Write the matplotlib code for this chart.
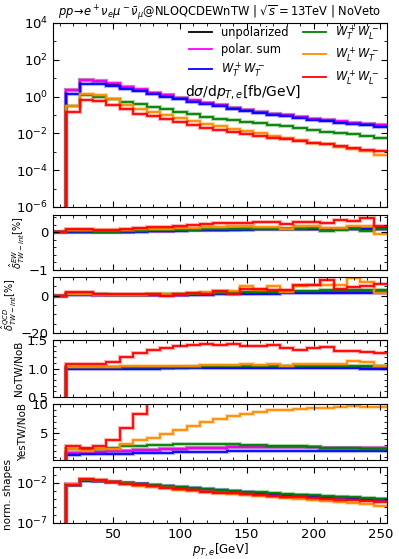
import numpy as np
import matplotlib
matplotlib.use("Agg")
import matplotlib.pyplot as plt
from matplotlib.ticker import MultipleLocator, FixedLocator, LogLocator, NullFormatter

# bin edges in p_T,e [GeV]; first bin is empty
edges = np.arange(5, 256, 10)

labels = ["unpolarized", "polar. sum", r"$W_T^+W_T^-$",
          r"$W_T^+W_L^-$", r"$W_L^+W_T^-$", r"$W_L^+W_L^-$"]
colors = ["black", "magenta", "blue", "green", "darkorange", "red"]

# d sigma / d pT [fb/GeV]
xs_unpol = [0, 2.2, 7.8, 6.9, 5.1, 3.4, 2.4, 1.6, 1.15, 0.83, 0.61, 0.44, 0.33, 0.245,
            0.19, 0.147, 0.115, 0.094, 0.076, 0.062, 0.052, 0.044, 0.037, 0.033, 0.029]
xs_sum = [0, 2.3, 8.1, 7.1, 5.3, 3.5, 2.5, 1.65, 1.2, 0.85, 0.63, 0.45, 0.34, 0.25,
          0.195, 0.15, 0.118, 0.096, 0.078, 0.063, 0.053, 0.045, 0.038, 0.034, 0.030]
xs_TT = [0, 1.34, 5.0, 4.6, 3.8, 2.7, 1.95, 1.35, 1.0, 0.72, 0.54, 0.39, 0.29, 0.22,
         0.17, 0.13, 0.103, 0.084, 0.068, 0.055, 0.046, 0.039, 0.033, 0.028, 0.023]
xs_TL = [0, 0.3, 1.23, 0.96, 0.75, 0.51, 0.38, 0.27, 0.2, 0.148, 0.11, 0.082, 0.064, 0.052,
         0.043, 0.035, 0.029, 0.024, 0.019, 0.015, 0.0125, 0.0104, 0.0088, 0.0072, 0.0054]
xs_LT = [0, 0.31, 1.45, 1.23, 0.7, 0.33, 0.21, 0.145, 0.1, 0.07, 0.048, 0.034, 0.025, 0.018,
         0.0135, 0.01, 0.0075, 0.0055, 0.0042, 0.0032, 0.0025, 0.0019, 0.0014, 0.0011, 0.00068]
xs_LL = [0, 0.15, 0.66, 0.58, 0.33, 0.2, 0.12, 0.088, 0.058, 0.04, 0.028, 0.02, 0.0152, 0.012,
         0.0093, 0.0073, 0.0057, 0.0047, 0.0038, 0.003, 0.0025, 0.002, 0.0016, 0.0013, 0.0011]

# EW TW-int correction [%]
ew_unpol = [0, 0.01, 0.01, 0.01, 0.02, 0.02, 0.03, 0.04, 0.04, 0.05, 0.06, 0.06, 0.07, 0.08,
            0.08, 0.08, 0.09, 0.09, 0.09, 0.1, 0.1, 0.1, 0.11, 0.1, 0.11]
ew_sum = [0, 0.01, 0.01, 0.01, 0.02, 0.02, 0.03, 0.03, 0.04, 0.05, 0.05, 0.06, 0.07, 0.07,
          0.08, 0.08, 0.08, 0.09, 0.09, 0.09, 0.1, 0.1, 0.1, 0.1, 0.1]
ew_TT = [0, 0.0, 0.0, 0.01, 0.01, 0.01, 0.02, 0.03, 0.03, 0.04, 0.05, 0.05, 0.06, 0.07,
         0.07, 0.08, 0.08, 0.08, 0.09, 0.09, 0.1, 0.09, 0.09, 0.1, 0.1]
ew_TL = [0, 0.03, 0.03, 0.02, 0.02, 0.03, 0.04, 0.05, 0.05, 0.06, 0.07, 0.08, 0.09, 0.1,
         0.1, 0.1, 0.1, 0.1, 0.09, 0.12, 0.04, 0.07, 0.1, 0.04, 0.09]
ew_LT = [0, 0.06, 0.06, 0.05, 0.05, 0.06, 0.08, 0.09, 0.1, 0.11, 0.12, 0.13, 0.15, 0.16,
         0.16, 0.14, 0.14, 0.1, 0.17, 0.17, 0.12, 0.12, 0.18, 0.16, -0.05]
ew_LL = [0, 0.08, 0.08, 0.06, 0.06, 0.09, 0.12, 0.14, 0.14, 0.17, 0.19, 0.21, 0.24, 0.25,
         0.25, 0.27, 0.28, 0.23, 0.28, 0.28, 0.26, 0.34, 0.31, 0.37, 0.16]

# QCD TW-int correction [%]
qcd_unpol = [0, 0.8, 0.8, 0.5, 0.4, 0.4, 0.4, 0.4, 0.5, 0.6, 0.8, 1.0, 1.2, 1.4,
             1.5, 1.7, 1.8, 1.9, 2.0, 2.1, 2.2, 2.3, 2.4, 2.4, 2.5]
qcd_sum = [0, 0.8, 0.8, 0.5, 0.4, 0.4, 0.4, 0.4, 0.5, 0.6, 0.8, 1.0, 1.2, 1.3,
           1.5, 1.6, 1.8, 1.9, 2.0, 2.1, 2.2, 2.2, 2.3, 2.4, 2.4]
qcd_TT = [0, 0.3, 0.3, 0.2, 0.2, 0.2, 0.2, 0.2, 0.3, 0.4, 0.5, 0.6, 0.7, 0.8,
          0.9, 1.0, 1.1, 1.2, 1.3, 1.3, 1.4, 1.4, 1.5, 1.5, 1.5]
qcd_TL = [0, 1.0, 1.0, 0.7, 0.6, 0.6, 0.6, 0.7, 0.8, 0.9, 1.1, 1.3, 1.5, 1.7,
          1.8, 2.0, 2.2, 2.3, 2.5, 2.6, 2.8, 2.8, 2.9, 3.0, 3.0]
qcd_LT = [0, 0.9, 0.9, 0.5, 0.5, 0.5, 0.6, 0.7, 0.8, 1.0, 1.6, 2.2, 2.6, 2.7,
          5.0, 3.0, 5.0, 2.0, 5.0, 5.7, 5.7, 5.7, 9.3, 7.5, 1.6]
qcd_LL = [0, 1.8, 1.8, 0.9, 0.7, 0.7, 0.7, 0.7, -0.3, 0.9, 1.6, 1.0, 2.7, 0.9,
          3.4, 3.4, 3.3, 3.0, 5.7, 5.7, 8.4, 3.4, 4.9, 5.4, 6.5]

# NoTW / NoB
notw_unpol = [0, 1.01, 1.01, 1.01, 1.01, 1.01, 1.01, 1.01, 1.01, 1.02, 1.02, 1.02, 1.02, 1.02,
              1.02, 1.02, 1.02, 1.02, 1.02, 1.02, 1.02, 1.02, 1.02, 1.02, 1.01]
notw_sum = [0, 1.01, 1.01, 1.01, 1.01, 1.01, 1.01, 1.01, 1.01, 1.01, 1.02, 1.02, 1.02, 1.02,
            1.02, 1.02, 1.02, 1.02, 1.02, 1.02, 1.02, 1.02, 1.02, 1.01, 1.01]
notw_TT = [0, 1.0, 1.0, 1.0, 1.0, 1.0, 1.0, 1.0, 1.005, 1.005, 1.01, 1.01, 1.01, 1.01,
           1.01, 1.01, 1.01, 1.01, 1.01, 1.01, 1.01, 1.01, 1.01, 1.0, 0.99]
notw_TL = [0, 1.02, 1.02, 1.02, 1.02, 1.02, 1.02, 1.03, 1.03, 1.03, 1.03, 1.04, 1.04, 1.04,
           1.05, 1.05, 1.05, 1.05, 1.05, 1.05, 1.05, 1.05, 1.04, 1.04, 1.04]
notw_LT = [0, 1.03, 1.03, 1.03, 1.03, 1.04, 1.04, 1.04, 1.05, 1.05, 1.05, 1.06, 1.06, 1.07,
           1.08, 1.07, 1.08, 1.05, 1.08, 1.08, 1.08, 1.08, 1.13, 1.12, 1.04]
notw_LL = [0, 1.08, 1.08, 1.08, 1.12, 1.2, 1.28, 1.33, 1.36, 1.39, 1.415, 1.43, 1.42, 1.43,
           1.39, 1.4, 1.41, 1.365, 1.33, 1.36, 1.38, 1.31, 1.3, 1.29, 1.28]

# YesTW / NoB
yes_unpol = [0, 1.7, 1.75, 1.85, 1.95, 2.05, 2.15, 2.25, 2.35, 2.45, 2.5, 2.55, 2.6, 2.65,
             2.65, 2.7, 2.7, 2.7, 2.65, 2.65, 2.6, 2.6, 2.55, 2.55, 2.5]
yes_sum = [0, 1.72, 1.77, 1.87, 1.97, 2.07, 2.17, 2.27, 2.37, 2.45, 2.52, 2.57, 2.62, 2.66,
           2.67, 2.7, 2.7, 2.68, 2.66, 2.64, 2.6, 2.58, 2.55, 2.52, 2.5]
yes_TT = [0, 1.42, 1.45, 1.5, 1.55, 1.6, 1.65, 1.7, 1.75, 1.8, 1.85, 1.9, 1.92, 1.95,
          1.97, 2.0, 2.0, 2.02, 2.03, 2.04, 2.05, 2.05, 2.05, 2.05, 2.05]
yes_TL = [0, 2.45, 2.3, 2.45, 2.6, 2.8, 2.95, 3.05, 3.1, 3.15, 3.2, 3.2, 3.2, 3.15,
          3.1, 3.0, 2.95, 2.85, 2.8, 2.7, 2.6, 2.55, 2.5, 2.4, 2.35]
yes_LT = [0, 2.3, 2.05, 2.3, 2.45, 3.2, 3.86, 4.3, 4.9, 5.6, 6.25, 6.9, 7.5, 7.95,
          8.35, 8.65, 8.9, 9.05, 9.2, 9.3, 9.4, 9.5, 9.6, 9.55, 9.45]
yes_LL = [0, 2.85, 2.6, 2.85, 3.85, 5.85, 8.3, 11, 14, 17, 20, 23, 26, 29,
          32, 35, 38, 40, 42, 44, 46, 48, 50, 52, 54]

xs = [xs_unpol, xs_sum, xs_TT, xs_TL, xs_LT, xs_LL]
ew = [ew_unpol, ew_sum, ew_TT, ew_TL, ew_LT, ew_LL]
qcd = [qcd_unpol, qcd_sum, qcd_TT, qcd_TL, qcd_LT, qcd_LL]
notw = [notw_unpol, notw_sum, notw_TT, notw_TL, notw_LT, notw_LL]
yes = [yes_unpol, yes_sum, yes_TT, yes_TL, yes_LT, yes_LL]

widths = np.diff(edges)
norm = [np.array(v) / np.sum(np.array(v) * widths) for v in xs]

W, H = 399, 559
fig = plt.figure(figsize=(W / 100, H / 100), dpi=100)

left, right = 53, 387


def add_panel(top, bottom):
    return fig.add_axes([left / W, 1 - bottom / H, (right - left) / W, (bottom - top) / H])


ax0 = add_panel(23, 207)
ax1 = add_panel(215, 270)
ax2 = add_panel(277, 333)
ax3 = add_panel(340, 397)
ax4 = add_panel(404, 460)
ax5 = add_panel(467, 523)
axes = [ax0, ax1, ax2, ax3, ax4, ax5]


def draw(ax, series, legend=False):
    for vals, c, lab in zip(series, colors, labels):
        ax.stairs(vals, edges, color=c, lw=3, alpha=0.3, baseline=None)
        ax.stairs(vals, edges, color=c, lw=1.3, baseline=None,
                  label=lab if legend else None)


for ax in [ax0, ax5]:
    ax.set_yscale("log")

draw(ax0, xs, legend=True)
draw(ax1, ew)
draw(ax2, qcd)
draw(ax3, notw)
draw(ax4, yes)
draw(ax5, norm)

for ax in axes:
    ax.set_xlim(5, 255)
    ax.xaxis.set_major_locator(MultipleLocator(50))
    ax.xaxis.set_minor_locator(MultipleLocator(10))
    ax.tick_params(which="both", direction="in", top=True, right=True, labelsize=9.5)
    ax.tick_params(which="major", length=4)
    ax.tick_params(which="minor", length=2)
    if ax is not ax5:
        ax.tick_params(labelbottom=False)

ax0.set_ylim(1e-6, 1e4)
ax0.yaxis.set_major_locator(FixedLocator([1e-6, 1e-4, 1e-2, 1e0, 1e2, 1e4]))
ax0.yaxis.set_minor_locator(LogLocator(base=10, subs=(1.0,), numticks=20))
ax0.yaxis.set_minor_formatter(NullFormatter())
ax0.text(0.395, 0.625, r"d$\sigma$/d$p_{T,e}$[fb/GeV]", transform=ax0.transAxes,
         fontsize=10, va="center", ha="left")
ax0.legend(ncol=2, loc="upper right", bbox_to_anchor=(1.0, 1.045), frameon=False,
           fontsize=8.3, handlelength=2.0, columnspacing=1.2, labelspacing=0.35,
           borderaxespad=0.3)
ax0.set_title(r"$pp\!\to\! e^+\nu_e\mu^-\bar{\nu}_\mu$@NLOQCDEWnTW | $\sqrt{s}=13$TeV | NoVeto",
              fontsize=8.3, pad=4)

ax1.set_ylim(-1, 0.46)
ax1.yaxis.set_major_locator(FixedLocator([-1, 0]))
ax1.yaxis.set_minor_locator(MultipleLocator(0.2))
ax1.set_ylabel(r"$\hat{\delta}^{EW}_{TW-int}$[%]", fontsize=7, labelpad=1)

ax2.set_ylim(-20, 10)
ax2.yaxis.set_major_locator(FixedLocator([-20, 0]))
ax2.yaxis.set_minor_locator(MultipleLocator(5))
ax2.set_ylabel(r"$\hat{\delta}^{QCD}_{TW-int}$[%]", fontsize=7, labelpad=1)

ax3.set_ylim(0.5, 1.5)
ax3.yaxis.set_major_locator(MultipleLocator(0.5))
ax3.yaxis.set_minor_locator(MultipleLocator(0.1))
ax3.set_ylabel("NoTW/NoB", fontsize=7.5, labelpad=2)

ax4.set_ylim(0.5, 10)
ax4.yaxis.set_major_locator(FixedLocator([5, 10]))
ax4.yaxis.set_minor_locator(MultipleLocator(1))
ax4.set_ylabel("YesTW/NoB", fontsize=7.5, labelpad=2)

ax5.set_ylim(1e-7, 1)
ax5.yaxis.set_major_locator(FixedLocator([1e-7, 1e-2]))
ax5.yaxis.set_minor_locator(LogLocator(base=10, subs=(1.0,), numticks=20))
ax5.yaxis.set_minor_formatter(NullFormatter())
ax5.set_ylabel("norm. shapes", fontsize=7.5, labelpad=2)
ax5.set_xlabel(r"$p_{T,e}$[GeV]", fontsize=8.5, labelpad=1)

fig.savefig("out.png", dpi=100)
